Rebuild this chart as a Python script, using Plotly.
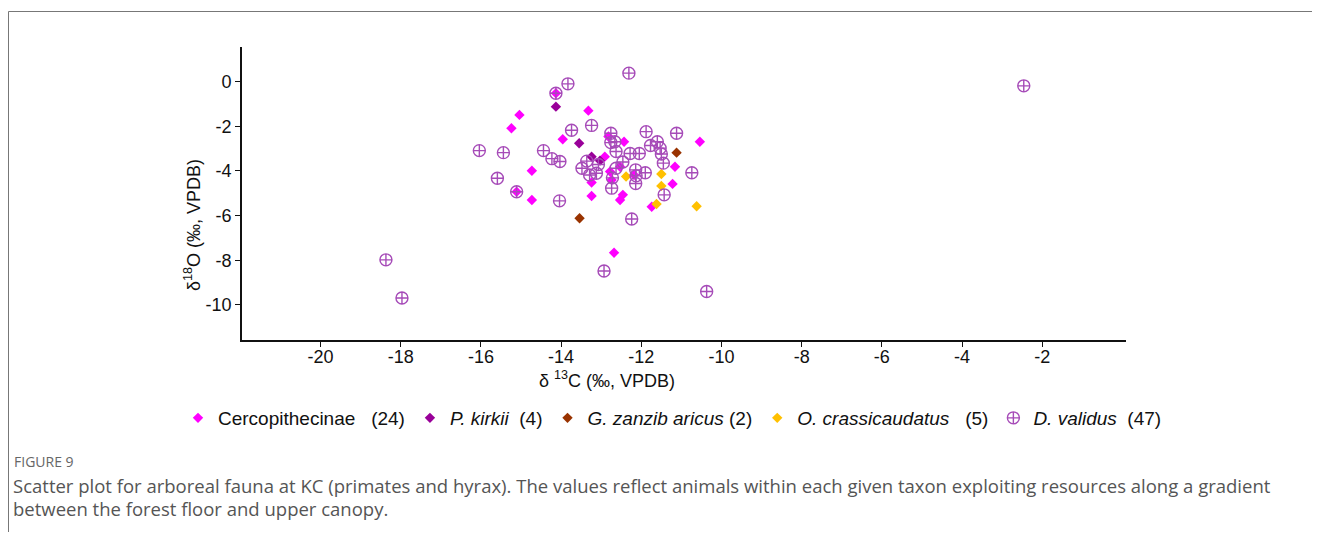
import plotly.graph_objects as go

# ---- data (δ13C, δ18O) ----
cerco_x = [-15.04, -15.24, -14.13, -13.32, -13.96, -12.82, -12.43, -10.54, -12.91, -12.53,
           -12.78, -12.74, -13.24, -13.24, -12.46, -12.53, -14.73, -14.73, -15.11, -11.16,
           -11.22, -11.74, -12.68, -12.18]
cerco_y = [-1.49, -2.09, -0.52, -1.30, -2.58, -2.46, -2.69, -2.69, -3.36, -3.81,
           -4.03, -4.40, -4.52, -5.12, -5.07, -5.30, -3.99, -5.30, -4.93, -3.81,
           -4.58, -5.60, -7.66, -4.18]

kirkii_x = [-14.13, -13.55, -13.24, -13.03]
kirkii_y = [-1.12, -2.76, -3.36, -3.54]

zanzi_x = [-11.12, -13.54]
zanzi_y = [-3.18, -6.12]

crassi_x = [-12.38, -11.50, -11.50, -11.62, -10.62]
crassi_y = [-4.25, -4.14, -4.67, -5.48, -5.58]

valid_x = [-2.46, -18.37, -17.97, -16.04, -15.44, -15.59, -15.11, -14.13, -13.83, -14.44,
           -14.23, -14.03, -13.74, -14.04, -13.24, -12.31, -12.76, -12.66, -12.76, -12.63,
           -13.36, -13.48, -13.07, -13.29, -13.12, -12.46, -12.63, -12.74, -11.88, -11.12,
           -11.77, -11.60, -11.53, -11.50, -12.28, -12.05, -11.45, -10.74, -11.90, -12.14,
           -12.14, -11.43, -12.24, -12.93, -10.37, -12.72, -12.13]
valid_y = [-0.19, -7.98, -9.69, -3.09, -3.18, -4.33, -4.93, -0.52, -0.10, -3.09,
           -3.45, -3.58, -2.18, -5.34, -1.96, 0.38, -2.31, -2.69, -2.73, -3.13,
           -3.56, -3.88, -3.71, -4.18, -4.10, -3.60, -3.88, -4.77, -2.24, -2.31,
           -2.86, -2.69, -2.98, -3.24, -3.22, -3.22, -3.65, -4.08, -4.08, -3.95,
           -4.56, -5.07, -6.15, -8.48, -9.40, -4.31, -4.22]

x_ticks = [-20, -18, -16, -14, -12, -10, -8, -6, -4, -2]
y_ticks = [0, -2, -4, -6, -8, -10]

NB = "\u00a0"
names = [
    "Cercopithecinae" + NB * 3 + "(24)",
    "<i>P. kirkii</i>" + NB * 2 + "(4)",
    "<i>G. zanzib aricus</i>" + NB + "(2)",
    "<span style='font-size:19px'><i>O. crassicaudatus</i></span>" + NB * 3 + "(5)",
    "<i>D. validus</i>" + NB * 2 + "(47)",
]

# page has an 8px body margin; work in page pixels and convert
OFF = 8
W, H = 1320 - 2 * OFF, 540 - 2 * OFF
L, R, T, B = 242 - OFF, 1126 - OFF, 47 - OFF, 340 - OFF


def px(xp):
    return (xp - OFF - L) / (R - L)


def py(yp):
    return (B - (yp - OFF)) / (B - T)


fig = go.Figure()
diamond = dict(symbol="diamond", size=8, line=dict(width=0))
fig.add_trace(go.Scatter(x=cerco_x, y=cerco_y, mode="markers", name=names[0],
                         marker=dict(color="#FF00FF", **diamond)))
fig.add_trace(go.Scatter(x=kirkii_x, y=kirkii_y, mode="markers", name=names[1],
                         marker=dict(color="#990099", **diamond)))
fig.add_trace(go.Scatter(x=zanzi_x, y=zanzi_y, mode="markers", name=names[2],
                         marker=dict(color="#993300", **diamond)))
fig.add_trace(go.Scatter(x=crassi_x, y=crassi_y, mode="markers", name=names[3],
                         marker=dict(color="#FFC000", **diamond)))
fig.add_trace(go.Scatter(x=valid_x, y=valid_y, mode="markers", name=names[4],
                         marker=dict(symbol="circle-cross-open", size=12, color="#A64BB8",
                                     line=dict(width=1.4, color="#A64BB8"))))

axis_common = dict(showgrid=False, zeroline=False, showline=True, linecolor="#111",
                   linewidth=1.6, ticks="outside", ticklen=5, tickwidth=1.2, tickcolor="#111",
                   tickfont=dict(family="Liberation Sans, Arial", size=18, color="#111"))
fig.update_xaxes(range=[-21.96, 0.09], tickvals=x_ticks, ticktext=[str(v) for v in x_ticks],
                 ticklabelstandoff=-5, **axis_common)
fig.update_yaxes(range=[-11.57, 1.55], tickvals=y_ticks, ticktext=[str(v) for v in y_ticks],
                 **axis_common)

annos = [
    dict(text="δ <sup>13</sup>C (‰, VPDB)", x=px(607), y=py(379), textangle=0),
    dict(text="δ<sup>18</sup>O (‰, VPDB)", x=px(193), y=py(225), textangle=-90),
]
for a in annos:
    fig.add_annotation(xref="paper", yref="paper", showarrow=False, xanchor="center",
                       yanchor="middle", font=dict(family="Liberation Sans, Arial", size=18,
                                                   color="#111"), **a)

fig.add_annotation(xref="paper", yref="paper", x=px(12), y=py(461), xanchor="left",
                   yanchor="middle", showarrow=False, text="FIGURE 9",
                   font=dict(family="Open Sans", size=14, color="#666"))
caption_lines = [
    "Scatter plot for arboreal fauna at KC (primates and hyrax). The values reflect animals within each given taxon exploiting resources along a gradient",
    "between the forest floor and upper canopy.",
]
for line, yy in zip(caption_lines, [486, 508]):
    fig.add_annotation(xref="paper", yref="paper", x=px(11), y=py(yy), xanchor="left",
                       yanchor="middle", showarrow=False, align="left", text=line,
                       font=dict(family="Open Sans", size=18.5, color="#555"))

fig.add_shape(type="rect", xref="paper", yref="paper", x0=px(8.5), x1=px(1360), y0=py(600),
              y1=py(11.5), line=dict(color="#777", width=1), fillcolor="rgba(0,0,0,0)")

fig.update_layout(
    width=W, height=H, margin=dict(l=L, r=W - R, t=T, b=H - B, autoexpand=False),
    paper_bgcolor="white", plot_bgcolor="white",
    showlegend=True,
    legend=dict(orientation="h", x=px(178), y=py(418), xanchor="left", yanchor="middle",
                font=dict(family="Liberation Sans, Arial", size=19, color="#111"),
                bgcolor="rgba(0,0,0,0)", itemwidth=30, tracegroupgap=0),
)

fig.write_html("out.html")
